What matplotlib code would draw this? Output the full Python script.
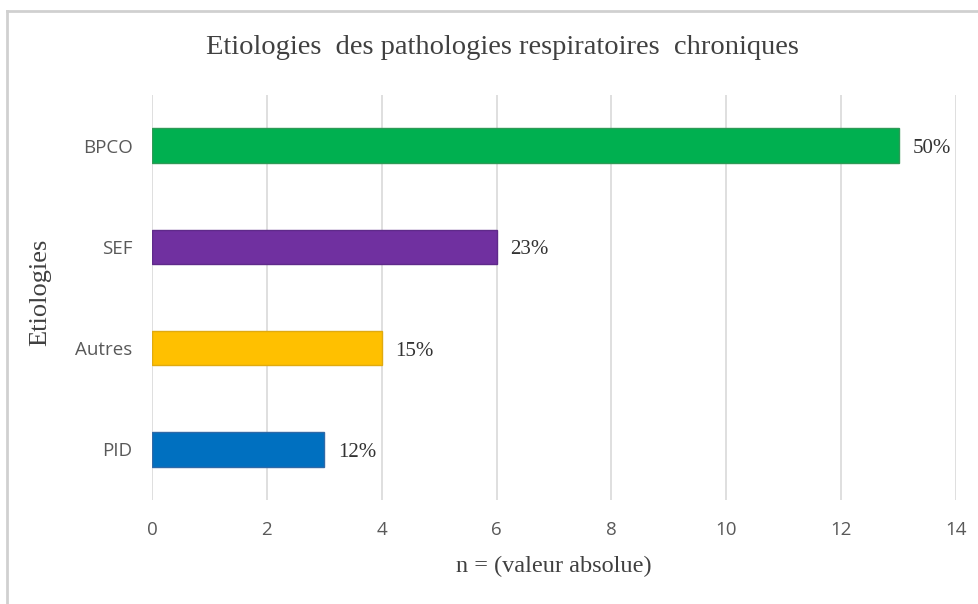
import matplotlib.pyplot as plt
from matplotlib.lines import Line2D

categories = ['PID', 'Autres', 'SEF', 'BPCO']
counts = [3, 4, 6, 13]
percents = ['12%', '15%', '23%', '50%']
colors = ['#0070C0', '#FFC000', '#7030A0', '#00B050']
edges = ['#2F6AA8', '#E0AA10', '#5F2A8A', '#2E9A56']

W, H = 979, 604
fig = plt.figure(figsize=(W / 100, H / 100), dpi=100)
ax = fig.add_axes([152 / W, 1 - 500 / H, (956 - 152) / W, (500 - 95) / H])

ax.barh(range(len(categories)), counts, height=0.34, color=colors,
        edgecolor=edges, linewidth=1, zorder=3)
for i, (c, p) in enumerate(zip(counts, percents)):
    ax.text(c + 0.24, i - 0.03, p, va='center', ha='left', fontsize=15,
            family='Liberation Serif', color='#333333')

ax.set_xlim(0, 14)
ax.set_ylim(-0.5, 3.5)
ax.set_xticks(range(0, 15, 2))
ax.set_yticks(range(len(categories)))
ax.set_yticklabels(categories)
ax.grid(axis='x', color='#D9D9D9', linewidth=1.2, zorder=0)
for s in ax.spines.values():
    s.set_visible(False)
ax.tick_params(length=0, labelsize=13.5, labelcolor='#595959')
ax.tick_params(axis='x', pad=15)
ax.tick_params(axis='y', pad=14)
for lab in ax.get_xticklabels() + ax.get_yticklabels():
    lab.set_family('Open Sans')

ax.set_xlabel('n = (valeur absolue)', family='Liberation Serif',
              fontsize=17.5, color='#404040', labelpad=12)
fig.text(40 / W, 1 - 292 / H, 'Etiologies', rotation=90, ha='center',
         va='center', family='Liberation Serif', fontsize=19, color='#404040')
fig.text(502 / W, 1 - 47 / H, 'Etiologies  des pathologies respiratoires  chroniques',
         ha='center', va='center', family='Liberation Serif', fontsize=20.5,
         color='#404040')

# outer chart border (only top and left visible in the crop)
fig.add_artist(Line2D([7.5 / W, 7.5 / W], [0, 1 - 10.5 / H],
                      transform=fig.transFigure, color='#D0D0D0', lw=2))
fig.add_artist(Line2D([7.5 / W, 1], [1 - 10.5 / H, 1 - 10.5 / H],
                      transform=fig.transFigure, color='#D0D0D0', lw=2))

fig.savefig('out.png', dpi=100)
